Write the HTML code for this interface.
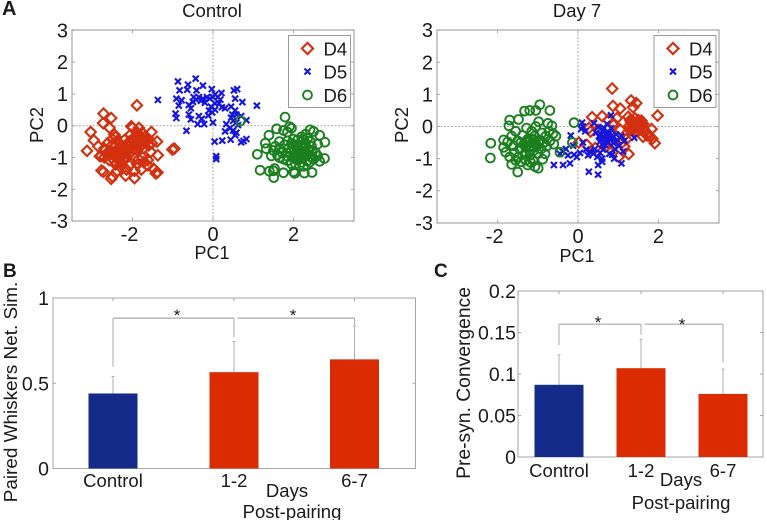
<!DOCTYPE html>
<html lang="en">
<head>
<meta charset="utf-8">
<title>PCA clusters and post-pairing comparison</title>
<style>
html,body{margin:0;padding:0;background:#fff;}
#figure{display:block;width:767px;height:522px;font-family:"Liberation Sans",sans-serif;fill:#1a1a1a;filter:blur(0.3px);}
</style>
</head>
<body>
<svg id="figure" width="767" height="522" viewBox="0 0 767 522" xmlns="http://www.w3.org/2000/svg"></svg>
<script>
// Panel A, Control: [PC1, PC2]
var controlD4 = [[-1.89,.64],[-2.72,.38],[-2.53,.24],[-2.73,.08],[-2.57,-.07],[-3.04,-.2],[-3.13,-.79],[-2.96,-.46],[-2.85,-.65],[-2.81,-.96],[-2.77,-1.41],[-2.72,-1.45],[-2.53,-1.67],[-2.5,-1.6],[-2.17,-1.57],[-1.95,-1.65],[-1.42,-1.5],[-1.38,-1.47],[-1.37,-.93],[-1.39,-.5],[-1.53,-.2],[-1.01,-.75],[-.96,-.72],[-2.03,-.02],[-2.0,-.06],[-1.84,-.07],[-2.45,-.28],[-2.42,-.35],[-2.38,-.48],[-2.5,-.6],[-2.55,-.78],[-2.65,-.88],[-2.78,-.95],[-2.7,-1.0],[-2.58,-1.08],[-2.48,-.92],[-2.38,-.85],[-2.3,-.75],[-2.22,-.68],[-2.15,-.6],[-2.08,-.5],[-2.0,-.42],[-1.92,-.38],[-1.85,-.3],[-1.76,-.22],[-1.7,-.36],[-1.66,-.5],[-1.6,-.42],[-1.75,-.58],[-1.85,-.52],[-1.95,-.62],[-2.05,-.7],[-2.12,-.78],[-2.2,-.88],[-2.28,-.95],[-2.36,-1.02],[-2.45,-1.1],[-2.3,-1.15],[-2.2,-1.0],[-2.1,-.9],[-2.02,-.82],[-1.92,-.72],[-1.82,-.68],[-1.72,-.7],[-1.6,-.62],[-1.52,-.55],[-2.42,-1.22],[-2.3,-1.3],[-2.38,-1.42],[-2.08,-1.25],[-2.04,-1.2],[-1.88,-1.22],[-1.85,-1.05],[-1.75,-1.0],[-1.72,-1.15],[-1.62,-1.25],[-1.62,-1.08],[-1.55,-.82],[-1.48,-1.35],[-2.62,-.55],[-2.7,-.72],[-2.2,-.45],[-2.05,-.28],[-1.9,-.2],[-2.28,-.6],[-2.5,-.42],[-2.15,-1.38],[-1.95,-1.42],[-1.78,-1.38],[-2.02,-.55],[-1.97,-.5],[-1.9,-.58],[-1.87,-.42],[-1.8,-.48],[-2.1,-.62],[-2.17,-.72],[-2.25,-.8],[-2.32,-.9],[-2.4,-.78],[-2.45,-.82],[-2.15,-.85],[-2.08,-.75],[-2.0,-.66],[-1.78,-.4],[-1.72,-.52],[-1.94,-.48],[-2.27,-.7]];
var controlD5 = [[-1.37,.81],[-.87,1.39],[-.83,1.11],[-.91,.85],[-.85,.63],[-.93,.38],[-.91,.24],[-.78,.8],[-.62,1.29],[-.64,1.13],[-.43,1.48],[-.41,1.11],[-.25,1.26],[-.03,1.15],[1.09,.63],[.73,.74],[.6,1.15],[.52,1.11],[.55,.85],[.21,1.03],[-.66,-.16],[.08,-.96],[.08,-1.05],[.04,-.5],[.23,-.47],[.44,-.44],[.7,-.52],[.76,-.48],[.83,-.42],[.83,.17],[-.6,.65],[-.55,.55],[-.5,.75],[-.48,.9],[-.42,.82],[-.35,.9],[-.3,.78],[-.25,.85],[-.2,.72],[-.15,.9],[-.08,.85],[0,.9],[.05,.98],[.12,.9],[.18,.82],[.15,.7],[.05,.7],[-.05,.6],[-.1,.48],[-.02,.42],[.05,.5],[-.12,.32],[.0,.1],[-.28,.22],[-.35,.3],[-.6,.35],[-.55,.2],[-.38,.05],[-.22,.05],[.22,.58],[.3,.55],[.45,.6],[.55,.48],[.58,.35],[.45,.25],[.5,.15],[.58,.1],[.33,.05],[.42,-.08],[.3,-.18],[.5,-.15],[.58,-.22],[.55,-.3],[.62,.02],[.48,.35],[.7,.3]];
var controlD6 = [[.68,.15],[1.79,.27],[1.9,-.03],[1.95,-.08],[1.58,-.1],[1.75,-.15],[1.85,-.2],[1.39,-.3],[1.3,-.55],[1.32,-.72],[1.1,-.9],[1.17,-1.4],[1.4,-1.43],[1.53,-1.35],[1.5,-1.42],[1.51,-1.63],[1.75,-1.48],[2.0,-1.45],[2.03,-1.5],[2.27,-1.49],[2.46,-1.47],[2.77,-1.03],[2.78,-.52],[2.6,-.58],[2.47,-.82],[2.5,-.18],[2.41,-.13],[2.3,-.27],[2.2,-.35],[2.65,-.3],[2.42,-.5],[1.5,-.78],[1.55,-.65],[1.65,-.72],[1.72,-.85],[1.78,-.6],[1.83,-.95],[1.88,-.72],[1.92,-.85],[1.95,-.55],[1.98,-1.0],[2.02,-.75],[2.05,-.9],[2.08,-.6],[2.1,-1.08],[2.12,-.8],[2.15,-.95],[2.18,-.65],[2.2,-1.15],[2.22,-.85],[2.25,-1.0],[2.28,-.72],[2.3,-.55],[2.32,-.9],[2.35,-1.1],[2.38,-.78],[2.42,-.98],[2.45,-.65],[2.5,-1.05],[2.55,-.85],[2.6,-.95],[2.15,-1.25],[2.05,-1.2],[1.95,-1.2],[2.25,-1.28],[1.85,-1.1],[1.75,-1.05],[1.65,-1.0],[1.6,-.92],[2.4,-1.15],[2.65,-1.12],[1.45,-.95],[2.1,-.45],[2.25,-.42],[2.35,-.4],[2.0,-.42],[1.85,-.48],[1.65,-.5],[2.08,-.82],[2.14,-.88],[2.18,-.78],[2.1,-.98],[2.2,-.95],[2.28,-.85],[2.04,-1.05],[2.16,-1.05],[2.24,-.68]];
// Panel A, Day 7
var day7D4 = [[.85,1.18],[1.32,.81],[1.45,.73],[.87,.64],[1.05,.56],[1.37,.6],[1.98,.34],[.35,.29],[.6,.32],[.97,.26],[1.91,-.52],[1.26,-.86],[1.83,-.08],[1.01,-.95],[.31,-.16],[.27,-.05],[.02,-.5],[.22,-.57],[.43,-.67],[.75,.2],[.88,.1],[1.25,.3],[1.3,.2],[1.35,.12],[1.42,.25],[1.5,.2],[1.58,.18],[1.62,.08],[1.28,.02],[1.36,-.02],[1.42,.05],[1.48,.0],[1.55,.02],[1.62,-.05],[1.3,-.12],[1.38,-.1],[1.45,-.15],[1.52,-.08],[1.68,-.15],[1.72,-.28],[1.78,-.3],[1.85,-.38],[1.62,-.32],[1.18,-.25],[1.05,-.1],[1.2,-.4],[1.1,-.5],[.95,-.3],[.8,-.45],[.9,-.6],[1.15,-.62],[.65,-.25],[.5,-.1],[.72,-.6],[1.33,.08],[1.4,.12],[1.46,.1],[1.52,.08],[1.38,.03],[1.44,-.03],[1.5,-.04],[1.34,-.06],[1.57,.1],[1.32,.14]];
var day7D5 = [[-.6,-1.2],[-.37,-1.2],[-.2,-1.15],[-.03,-.95],[.27,-1.41],[.5,-1.2],[.5,-1.5],[.6,-1.1],[.6,-1.0],[1.08,-1.15],[.9,-1.0],[.82,.35],[1.4,-.35],[-.45,-.85],[-.38,-.78],[-.3,-.7],[-.25,-.9],[-.18,-.28],[-.12,-.6],[-.1,-.88],[.05,-.82],[.1,.12],[.12,.0],[.08,-.08],[.18,-.15],[.12,-.5],[.2,-.72],[.25,-.9],[.3,-.78],[.38,-.85],[.42,-.7],[.48,-.95],[.55,-.82],[.62,-.72],[.4,.1],[.5,-.02],[.45,-.2],[.52,-.3],[.58,-.42],[.62,-.12],[.68,-.25],[.72,-.38],[.75,-.5],[.8,-.2],[.82,-.05],[.85,-.35],[.88,-.52],[.92,-.7],[.95,-.25],[.98,-.42],[1.02,-.6],[1.08,-.3],[1.12,-.78],[1.15,-.45],[.78,-.85],[.68,-.58],[.6,-.55],[.55,-.35],[.65,-.05],[.72,.08],[.85,-.88],[.63,-.32],[.7,-.42],[.76,-.3],[.66,-.48],[.58,-.25],[.74,-.18],[.8,-.36],[.54,-.48]];
var day7D6 = [[-2.17,-.52],[-2.18,-.98],[-1.5,-1.42],[-.99,-1.3],[-1.07,-1.25],[-1.65,-1.18],[-.95,.68],[-.7,.5],[-1.05,.5],[-1.2,.5],[-1.33,.48],[-1.48,.22],[-1.7,.2],[-1.72,.02],[-.1,.12],[-.45,-.8],[-.14,-.5],[-1.85,-.42],[-1.85,-.65],[-1.8,-.8],[-1.75,-.48],[-1.7,-.95],[-1.65,-.3],[-1.6,-.6],[-1.58,-.82],[-1.55,-.15],[-1.5,-.45],[-1.48,-.95],[-1.45,-.7],[-1.42,-1.1],[-1.38,-.28],[-1.35,-.55],[-1.32,-.85],[-1.3,-1.05],[-1.28,-.05],[-1.25,-.4],[-1.22,-.65],[-1.2,-.9],[-1.18,-1.12],[-1.15,-.15],[-1.12,-.5],[-1.1,-.75],[-1.08,-.3],[-1.05,.0],[-1.02,-.6],[-1.0,-.85],[-.98,.15],[-.95,-.42],[-.92,-.7],[-.9,-.2],[-.88,-1.02],[-.85,-.5],[-.82,-.85],[-.8,-.3],[-.78,-.62],[-.75,.1],[-.72,-.15],[-.7,-.45],[-.65,.02],[-.62,-.22],[-.6,-.55],[-.55,-.3],[-1.55,-1.05],[-1.42,-.5],[-1.25,-1.2],[-1.12,-1.05],[-1.28,-.5],[-1.22,-.45],[-1.16,-.6],[-1.1,-.42],[-1.05,-.55],[-1.18,-.38],[-1.3,-.65],[-1.08,-.65],[-.98,-.5],[-1.2,-.75]];
// Panels B and C: bar means and error-bar tops
var barCategories = ["Control", "1-2", "6-7"];
var similarityValues = [0.44, 0.565, 0.64];
var similarityErrorTops = [0.54, 0.745, 0.835];
var similarityTicks = ["0", "0.5", "1"];
var convergenceValues = [0.087, 0.107, 0.076];
var convergenceErrorTops = [0.123, 0.142, 0.106];
var convergenceTicks = ["0", "0.05", "0.1", "0.15", "0.2"];
var pcXTicks = ["-2", "0", "2"];
var pcYTicks = ["-3", "-2", "-1", "0", "1", "2", "3"];
var legendLabels = ["D4", "D5", "D6"];

var NS = "http://www.w3.org/2000/svg";
var svg = document.getElementById("figure");
var RED = "#d2300f", BLUE = "#1515dc", GREEN = "#1b7f1f", AXIS = "#a6a6a6", ERR = "#b0b0b0";

function mk(parent, tag, name, attrs) {
  var el = document.createElementNS(NS, tag);
  
  
  for (var k in attrs) el.setAttribute(k, attrs[k]);
  parent.appendChild(el);
  return el;
}
function txt(parent, name, s, x, y, size, anchor, extra) {
  var a = {x: x, y: y, "font-size": size, "text-anchor": anchor || "middle"};
  for (var k in extra || {}) a[k] = extra[k];
  var t = mk(parent, "text", name, a);
  t.textContent = s;
  return t;
}
function line(parent, name, x1, y1, x2, y2, color, w, dash) {
  var a = {x1: x1, y1: y1, x2: x2, y2: y2, stroke: color, "stroke-width": w};
  if (dash) a["stroke-dasharray"] = dash;
  return mk(parent, "line", name, a);
}
function marker(parent, kind, name, cx, cy, size) {
  if (kind === "diamond") {
    var r = size || 5.2;
    mk(parent, "polygon", name, {points: [cx, cy - r, cx + r, cy, cx, cy + r, cx - r, cy].join(" "), fill: "none", stroke: RED, "stroke-width": 2.1});
  } else if (kind === "cross") {
    var c = size || 3;
    mk(parent, "path", name, {d: "M" + (cx - c) + " " + (cy - c) + "L" + (cx + c) + " " + (cy + c) + "M" + (cx - c) + " " + (cy + c) + "L" + (cx + c) + " " + (cy - c), fill: "none", stroke: BLUE, "stroke-width": 2.1});
  } else {
    mk(parent, "circle", name, {cx: cx, cy: cy, r: size || 4.4, fill: "none", stroke: GREEN, "stroke-width": 1.9});
  }
}

function scatterPanel(p) {
  var g = mk(svg, "g", p.id + "-panel", {});
  var sx = function (v) { return p.x0 + v * p.kx; };
  var sy = function (v) { return p.y0 - v * p.ky; };
  mk(g, "rect", p.id + "-plot-frame", {x: p.left, y: p.top, width: p.right - p.left, height: p.bottom - p.top, fill: "#fff", stroke: AXIS, "stroke-width": 1.2});
  line(g, p.id + "-zero-x-line", p.left, sy(0), p.right, sy(0), "#aaa", 1, "2 1.5");
  line(g, p.id + "-zero-y-line", sx(0), p.top, sx(0), p.bottom, "#aaa", 1, "2 1.5");
  pcXTicks.forEach(function (t) {
    var v = parseFloat(t);
    line(g, p.id + "-x-tick", sx(v), p.bottom, sx(v), p.bottom - 3, AXIS, 1);
    line(g, p.id + "-x-tick-top", sx(v), p.top, sx(v), p.top + 3, AXIS, 1);
    txt(g, p.id + "-x-tick-label", t, sx(v) - (v < 0 ? 3 : 0), p.bottom + 20, 20);
  });
  pcYTicks.forEach(function (t) {
    var v = parseFloat(t);
    line(g, p.id + "-y-tick", p.left, sy(v), p.left + 3, sy(v), AXIS, 1);
    line(g, p.id + "-y-tick-right", p.right, sy(v), p.right - 3, sy(v), AXIS, 1);
    txt(g, p.id + "-y-tick-label", t, p.left - 4, sy(v) + 7, 20, "end");
  });
  var d4 = mk(g, "g", p.id + "-series-d4", {});
  p.d4.forEach(function (d) { marker(d4, "diamond", "d4-point", sx(d[0]), sy(d[1])); });
  var d5 = mk(g, "g", p.id + "-series-d5", {});
  p.d5.forEach(function (d) { marker(d5, "cross", "d5-point", sx(d[0]), sy(d[1])); });
  var d6 = mk(g, "g", p.id + "-series-d6", {});
  p.d6.forEach(function (d) { marker(d6, "circle", "d6-point", sx(d[0]), sy(d[1])); });
  txt(g, p.id + "-title", p.title, p.titleX, 17, 18.5);
  txt(g, p.id + "-x-axis-title", "PC1", p.xlabelX, p.xlabelY, 18);
  txt(g, p.id + "-y-axis-title", "PC2", 0, 0, 18.5, "middle", {transform: "translate(" + p.ylabelX + " 125) rotate(-90)"});
  var lg = mk(g, "g", p.id + "-legend", {});
  mk(lg, "rect", p.id + "-legend-box", {x: p.legX, y: 35.5, width: 62, height: 72, fill: "#fff", stroke: "#999", "stroke-width": 1});
  var kinds = ["diamond", "cross", "circle"];
  var rows = [48.5, 71.5, 95];
  legendLabels.forEach(function (s, i) {
    marker(lg, kinds[i], p.id + "-legend-marker-" + s.toLowerCase(), p.legX + 19, rows[i], i === 0 ? 5.6 : undefined);
    txt(lg, p.id + "-legend-label-" + s.toLowerCase(), s, p.legX + 35, rows[i] + 7, 18.5, "start");
  });
}

function barPanel(p) {
  var g = mk(svg, "g", p.id + "-panel", {});
  var sy = function (v) { return p.bottom - v * p.ky; };
  mk(g, "rect", p.id + "-plot-frame", {x: p.left, y: p.top, width: p.right - p.left, height: p.bottom - p.top, fill: "#fff", stroke: AXIS, "stroke-width": 1});
  p.ticks.forEach(function (t) {
    var v = parseFloat(t);
    line(g, p.id + "-y-tick", p.left, sy(v), p.left + 3, sy(v), AXIS, 1);
    line(g, p.id + "-y-tick-right", p.right, sy(v), p.right - 3, sy(v), AXIS, 1);
    txt(g, p.id + "-y-tick-label", t, p.tickX, sy(v) + 7, 19.5, "end");
  });
  barCategories.forEach(function (c, i) {
    var cx = p.centers[i];
    line(g, p.id + "-x-tick-top", cx, p.top, cx, p.top + 3, AXIS, 1);
    line(g, p.id + "-error-bar-" + c.toLowerCase(), cx, sy(p.values[i]), cx, sy(p.errs[i]), ERR, 1);
    line(g, p.id + "-error-cap-" + c.toLowerCase(), cx - 1.5, sy(p.errs[i]), cx + 1.5, sy(p.errs[i]), ERR, 1);
    mk(g, "rect", p.id + "-bar-" + c.toLowerCase(), {x: cx - p.barW / 2, y: sy(p.values[i]), width: p.barW, height: p.bottom - sy(p.values[i]), fill: i === 0 ? "#142b8a" : "#da2c00"});
    txt(g, p.id + "-category-label-" + c.toLowerCase(), c, cx, p.catY, 18.5);
  });
  var b = mk(g, "g", p.id + "-significance-bracket", {});
  var by = sy(p.bracket);
  line(b, "bracket-left-drop", p.centers[0], by, p.centers[0], p.drops[0], "#aaa", 1);
  line(b, "bracket-left-span", p.centers[0], by, p.centers[1], by, "#aaa", 1.2);
  line(b, "bracket-middle-drop", p.centers[1], by, p.centers[1], p.drops[1], "#aaa", 1);
  line(b, "bracket-right-span", p.centers[1] + 3.5, by, p.centers[2], by, "#aaa", 1.2);
  line(b, "bracket-right-drop", p.centers[2], by, p.centers[2], p.drops[2], "#aaa", 1);
  txt(g, p.id + "-significance-star-left", "*", p.stars[0][0], p.stars[0][1], 17);
  txt(g, p.id + "-significance-star-right", "*", p.stars[1][0], p.stars[1][1], 17);
  txt(g, p.id + "-days-label", "Days", p.daysX, p.daysY, 18.5);
  txt(g, p.id + "-post-pairing-label", "Post-pairing", p.postX, p.postY, 18.5);
  txt(g, p.id + "-y-axis-title", p.ylabel, 0, 0, p.ylabelSize, "middle", {transform: "translate(" + p.ylabelX + " " + p.ylabelY + ") rotate(-90)"});
}

scatterPanel({id: "control", title: "Control", titleX: 212, left: 72, right: 354, top: 30, bottom: 221, x0: 213, kx: 40.25, y0: 125.7, ky: 31.8, d4: controlD4, d5: controlD5, d6: controlD6, xlabelX: 212, xlabelY: 259, ylabelX: 43, legX: 288.5});
scatterPanel({id: "day7", title: "Day 7", titleX: 577, left: 437, right: 719, top: 30, bottom: 223, x0: 578, kx: 40.2, y0: 126.5, ky: 32.1, d4: day7D4, d5: day7D5, d6: day7D6, xlabelX: 577, xlabelY: 262, ylabelX: 408, legX: 654});

barPanel({id: "similarity", left: 53, right: 415.5, top: 298, bottom: 468.5, ky: 170.5, ticks: similarityTicks, values: similarityValues, errs: similarityErrorTops, centers: [113, 234, 354.5], barW: 49, tickX: 49, catY: 487, bracket: 0.882, drops: [367, 337, 325], stars: [[177, 321], [293, 321]], daysX: 287, daysY: 497, postX: 292, postY: 518, ylabel: "Paired Whiskers Net. Sim.", ylabelSize: 18.9, ylabelX: 17, ylabelY: 392});
barPanel({id: "convergence", left: 518, right: 763, top: 291, bottom: 457, ky: 830, ticks: convergenceTicks, values: convergenceValues, errs: convergenceErrorTops, centers: [559, 641, 723], barW: 49, tickX: 516, catY: 477, bracket: 0.16, drops: [345, 335, 362], stars: [[598, 328], [682, 330]], daysX: 681, daysY: 486, postX: 681, postY: 509, ylabel: "Pre-syn. Convergence", ylabelSize: 19.3, ylabelX: 470, ylabelY: 383});

txt(svg, "panel-label-a", "A", 2, 15, 20, "start", {"font-weight": "bold"});
txt(svg, "panel-label-b", "B", 3, 277, 19, "start", {"font-weight": "bold"});
txt(svg, "panel-label-c", "C", 434, 277, 19, "start", {"font-weight": "bold"});
mk(svg, "rect", "bottom-crop-mask", {x: 0, y: 520, width: 767, height: 2, fill: "#fff"});
</script>
</body>
</html>
